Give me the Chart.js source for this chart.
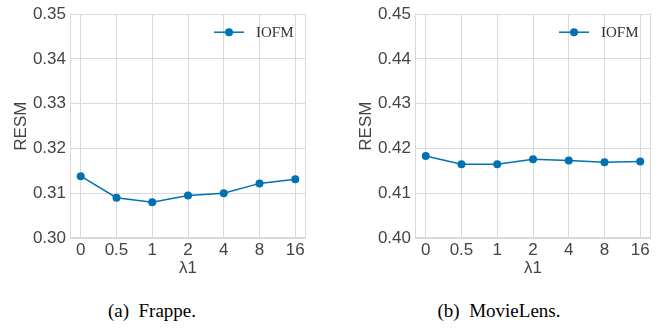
<!DOCTYPE html>
<html>
<head>
<meta charset="utf-8">
<script src="https://cdn.jsdelivr.net/npm/chart.js@4/dist/chart.umd.min.js"></script>
<style>
  html, body { margin: 0; padding: 0; background: #fff; }
  body { width: 668px; height: 328px; position: relative; overflow: hidden; }
  .box { position: absolute; top: 0; height: 280px; }
  .cap { position: absolute; top: 300px; font-family: "Liberation Serif", "Times New Roman", serif; font-size: 19px; color: #000; white-space: pre; transform: translateX(-50%); line-height: 22px; }
</style>
</head>
<body>
<div class="box" style="left:0;width:330px"><canvas id="c1" width="330" height="280"></canvas></div>
<div class="box" style="left:330px;width:338px"><canvas id="c2" width="338" height="280"></canvas></div>
<div class="cap" style="left:152px">(a)  Frappe.</div>
<div class="cap" style="left:499px">(b)  MovieLens.</div>
<script>
const lambdaLabels = ["0", "0.5", "1", "2", "4", "8", "16"];
const frappeValues = [0.3138, 0.3090, 0.3080, 0.3095, 0.3100, 0.3122, 0.3131];
const movielensValues = [0.4183, 0.4165, 0.4165, 0.4176, 0.4173, 0.4169, 0.4171];
const frappeTicks = [0.30, 0.31, 0.32, 0.33, 0.34, 0.35];
const movielensTicks = [0.40, 0.41, 0.42, 0.43, 0.44, 0.45];
const seriesName = "IOFM";

const BLUE = "#0072B2";
const GRID = "#d9d9d9";
const TXT = "#444444";
const FONT = '"Liberation Sans", Arial, sans-serif';

const framePlugin = {
  id: "frame",
  beforeDatasetsDraw(chart) {
    const a = chart.chartArea, ctx = chart.ctx;
    ctx.save();
    ctx.strokeStyle = GRID;
    ctx.lineWidth = 1;
    ctx.strokeRect(Math.round(a.left) + 0.5, Math.round(a.top) + 0.5, Math.round(a.right - a.left) - 1, Math.round(a.bottom - a.top) - 1);
    ctx.restore();
  }
};

const legendPlugin = {
  id: "innerLegend",
  afterDraw(chart) {
    const a = chart.chartArea, ctx = chart.ctx;
    const y = a.top + 18;
    const x0 = a.right - 92, x1 = a.right - 62;
    ctx.save();
    ctx.strokeStyle = BLUE;
    ctx.lineWidth = 1.5;
    ctx.beginPath(); ctx.moveTo(x0, y); ctx.lineTo(x1, y); ctx.stroke();
    ctx.fillStyle = BLUE;
    ctx.beginPath(); ctx.arc((x0 + x1) / 2, y, 4, 0, Math.PI * 2); ctx.fill();
    ctx.fillStyle = "#333";
    ctx.font = '15px "Liberation Serif", serif';
    ctx.textBaseline = "middle";
    ctx.fillText(seriesName, a.right - 50, y + 1);
    ctx.restore();
  }
};

function makeChart(id, values, ticks, yAxisWidth, rightPad) {
  const ymin = ticks[0], ymax = ticks[ticks.length - 1];
  return new Chart(document.getElementById(id), {
    type: "line",
    data: {
      datasets: [{
        label: seriesName,
        data: values.map((v, i) => ({ x: i, y: v })),
        borderColor: BLUE,
        backgroundColor: BLUE,
        borderWidth: 1.5,
        pointRadius: 4,
        pointHoverRadius: 4,
        pointBorderWidth: 0,
        tension: 0,
        clip: false
      }]
    },
    options: {
      responsive: false,
      animation: false,
      events: [],
      layout: { padding: { top: 8, right: rightPad, bottom: 0, left: 0 } },
      plugins: { legend: { display: false }, tooltip: { enabled: false } },
      scales: {
        x: {
          type: "linear",
          min: -0.3, max: lambdaLabels.length - 1 + 0.3,
          afterBuildTicks(s) { s.ticks = lambdaLabels.map((_, i) => ({ value: i })); },
          afterFit(s) { s.height = 42; },
          ticks: {
            callback: (v) => lambdaLabels[v],
            color: TXT,
            font: { family: FONT, size: 17 },
            padding: 2, maxRotation: 0, autoSkip: false
          },
          grid: { color: GRID, lineWidth: 1, drawTicks: false },
          border: { display: false },
          title: {
            display: true, text: "λ1", color: TXT,
            font: { family: FONT, size: 17 },
            padding: { top: 0, bottom: 1 }
          }
        },
        y: {
          min: ymin, max: ymax,
          afterBuildTicks(s) { s.ticks = ticks.map(v => ({ value: v })); },
          afterFit(s) { s.width = yAxisWidth; },
          ticks: {
            callback: (v) => Number(v).toFixed(2),
            color: TXT,
            font: { family: FONT, size: 17 },
            padding: 4
          },
          grid: { color: GRID, lineWidth: 1, drawTicks: false },
          border: { display: false },
          title: {
            display: true, text: "RESM", color: TXT,
            font: { family: FONT, size: 17 },
            padding: { top: yAxisWidth - 59, bottom: 0 }
          }
        }
      }
    },
    plugins: [framePlugin, legendPlugin]
  });
}

makeChart("c1", frappeValues, frappeTicks, 70, 24);
makeChart("c2", movielensValues, movielensTicks, 85, 17);
</script>
</body>
</html>
